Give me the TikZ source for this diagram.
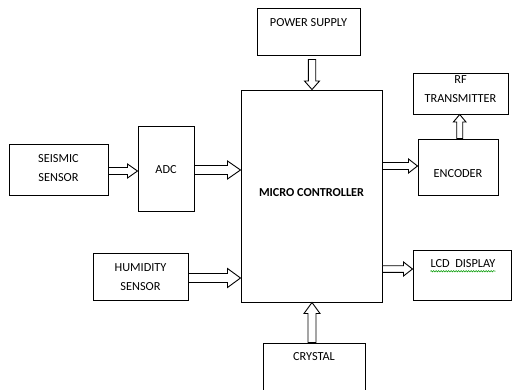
\documentclass[tikz,border=0pt]{standalone}
\usepackage{fontspec}
\setmainfont{Carlito}
\usetikzlibrary{calc,decorations.pathmorphing}
\tikzset{
  box/.style={draw, line width=1pt, rectangle, inner sep=0pt},
  lbl/.style={font=\fontsize{12.3}{19}\selectfont, align=center, inner sep=0pt},
  barrow/.style={draw, line width=0.9pt, fill=white, line join=miter},
}
% #1 from, #2 to, #3 half shaft, #4 half head, #5 head length
\newcommand\blockarr[5]{%
  \path ($(#2)!#5pt!(#1)$) coordinate (H);
  \draw[barrow] ($(#1)!#3pt!90:(#2)$) -- ($(H)!#3pt!90:(#2)$) -- ($(H)!#4pt!90:(#2)$) -- (#2)
    -- ($(H)!#4pt!-90:(#2)$) -- ($(H)!#3pt!-90:(#2)$) -- ($(#1)!#3pt!-90:(#2)$) -- cycle;}
\begin{document}
\begin{tikzpicture}[x=1pt,y=-1pt]
\clip (0,0) rectangle (512,389);
\useasboundingbox (0,0) rectangle (512,389);
\fill[white] (0,0) rectangle (512,389);

\node[box, minimum width=103, minimum height=47,
  label={[lbl, yshift=8.5pt]center:POWER SUPPLY}] (pow) at (308.5,31.5) {};
\node[box, minimum width=141, minimum height=212,
  label={[lbl, font=\fontsize{12.2}{19}\selectfont\bfseries, yshift=3pt]center:MICRO CONTROLLER}] (mc) at (311.5,196) {};
\node[box, minimum width=95, minimum height=41,
  label={[lbl, yshift=4pt]center:RF\\TRANSMITTER}] (rf) at (460.5,93.5) {};
\node[box, minimum width=99, minimum height=51,
  label={[lbl, yshift=1pt]center:SEISMIC\\SENSOR}] (seis) at (58.5,169.5) {};
\node[box, minimum width=56, minimum height=85,
  label={[lbl, yshift=-1.5pt]center:ADC}] (adc) at (166,168.5) {};
\node[box, minimum width=80, minimum height=56,
  label={[lbl, yshift=-7pt]center:ENCODER}] (enc) at (458,167) {};
\node[box, minimum width=95, minimum height=47,
  label={[lbl, yshift=-1pt]center:HUMIDITY\\SENSOR}] (hum) at (140.5,276.5) {};
\node[box, minimum width=98, minimum height=50] (lcd) at (462,275) {};
\node[lbl] (lcdt) at (463,264) {LCD\ \ DISPLAY};
\node[box, minimum width=102, minimum height=60,
  label={[lbl, yshift=-14pt, anchor=center]north:CRYSTAL}] (cry) at (314,373) {};

\draw[green!60!black, line width=0.5pt, decorate,
  decoration={snake, amplitude=0.7pt, segment length=2.5pt}]
  ($(lcdt.south west)+(0,3)$) -- ($(lcdt.south east)+(0,3)$);

% arrows
\coordinate (p1) at ($(seis.east)+(0,1.5)$);
\coordinate (p2) at (adc.west |- p1);
\blockarr{p1}{p2}{3.5}{7}{10}
\coordinate (p3) at ($(adc.east)+(0,1.5)$);
\coordinate (p4) at (mc.west |- p3);
\blockarr{p3}{p4}{4.5}{9}{13}
\coordinate (p5) at ($(enc.west)+(0,-1)$);
\coordinate (p6) at (mc.east |- p5);
\blockarr{p6}{p5}{3.5}{7}{9}
\coordinate (p7) at ($(enc.north)+(1.7,0)$);
\coordinate (p8) at (rf.south -| p7);
\blockarr{p7}{p8}{3}{6.3}{7.5}
\coordinate (p9) at ($(hum.east)+(0,1.5)$);
\coordinate (p10) at (mc.west |- p9);
\blockarr{p9}{p10}{4.5}{9.5}{13}
\coordinate (p11) at ($(lcd.west)+(0,-6)$);
\coordinate (p12) at (mc.east |- p11);
\blockarr{p12}{p11}{3.3}{7}{9}
\coordinate (p13) at ($(mc.north)+(0.5,0)$);
\coordinate (p14) at ($(pow.south -| p13)+(0,4)$);
\blockarr{p14}{p13}{3.7}{7.5}{8.5}
\coordinate (p15) at ($(mc.south)+(0.5,0)$);
\coordinate (p16) at (cry.north -| p15);
\blockarr{p16}{p15}{4}{8}{11}
\end{tikzpicture}
\end{document}
